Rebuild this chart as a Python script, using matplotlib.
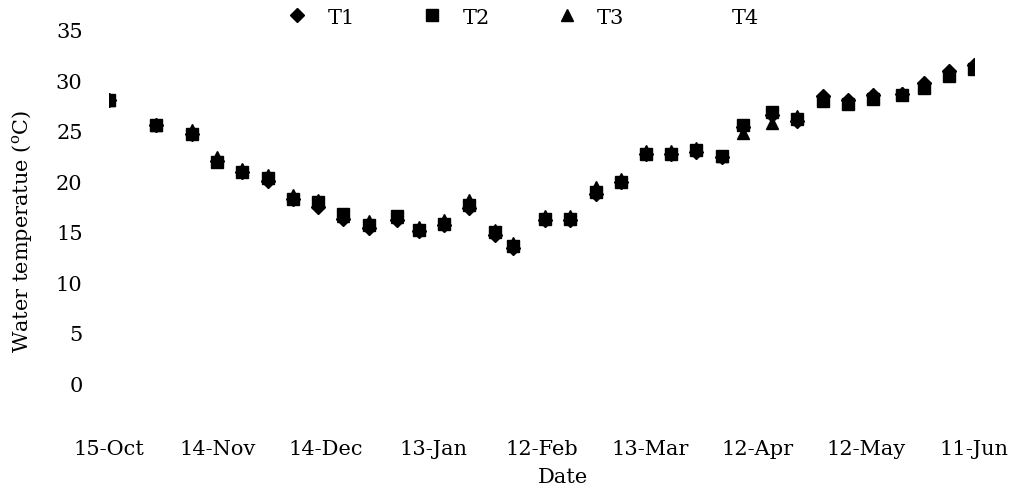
import datetime as dt
import numpy as np
import matplotlib
matplotlib.use("Agg")
import matplotlib.pyplot as plt
import matplotlib.dates as mdates

dates = ["2015-10-15", "2015-10-28", "2015-11-07", "2015-11-14", "2015-11-21", "2015-11-28",
         "2015-12-05", "2015-12-12", "2015-12-19", "2015-12-26", "2016-01-03", "2016-01-09",
         "2016-01-16", "2016-01-23", "2016-01-30", "2016-02-04", "2016-02-13", "2016-02-20",
         "2016-02-27", "2016-03-05", "2016-03-12", "2016-03-19", "2016-03-26", "2016-04-02",
         "2016-04-08", "2016-04-16", "2016-04-23", "2016-04-30", "2016-05-07", "2016-05-14",
         "2016-05-22", "2016-05-28", "2016-06-04", "2016-06-11"]

t1 = [28.1, 25.6, 24.7, 22.0, 20.9, 20.0, 18.3, 17.5, 16.3, 15.4, 16.2, 15.1,
      15.7, 17.4, 14.7, 13.4, 16.2, 16.2, 18.7, 19.9, 22.7, 22.7, 22.9, 22.4,
      25.4, 26.6, 26.0, 28.5, 28.1, 28.6, 28.7, 29.7, 30.9, 31.5]
t2 = [28.1, 25.6, 24.7, 21.9, 20.9, 20.3, 18.3, 18.0, 16.8, 15.7, 16.6, 15.2,
      15.8, 17.7, 15.0, 13.6, 16.3, 16.3, 18.9, 19.9, 22.7, 22.7, 23.1, 22.5,
      25.6, 26.9, 26.2, 28.0, 27.7, 28.2, 28.6, 29.3, 30.4, 31.1]
t3 = [28.1, 25.6, 25.1, 22.4, 21.2, 20.6, 18.6, 18.2, 16.6, 16.1, 16.5, 15.5,
      16.2, 18.2, 15.2, 13.9, 16.6, 16.6, 19.4, 20.2, 23.0, 23.0, 23.3, 22.5,
      24.8, 25.8, 26.5, 28.2, 27.9, 28.4, 28.8, 29.5, 30.6, 31.3]
t4 = [np.nan] * len(dates)  # T4 has no visible markers in the reference

tick_dates = ["2015-10-15", "2015-11-14", "2015-12-14", "2016-01-13", "2016-02-12",
              "2016-03-13", "2016-04-12", "2016-05-12", "2016-06-11"]
y_ticks = [0, 5, 10, 15, 20, 25, 30, 35]

plt.rcParams["font.family"] = "DejaVu Serif"
plt.rcParams["mathtext.fontset"] = "dejavuserif"
FS = 15

x = [dt.datetime.strptime(d, "%Y-%m-%d") for d in dates]
xt = [dt.datetime.strptime(d, "%Y-%m-%d") for d in tick_dates]

W, H = 1016, 489
fig = plt.figure(figsize=(W / 100, H / 100), dpi=100)
left, right, top, bottom = 109, 974, 31, 434.6
ax = fig.add_axes([left / W, 1 - bottom / H, (right - left) / W, (bottom - top) / H])

ax.plot(x, t1, linestyle="none", marker="D", markersize=7.6, color="black", label="T1")
ax.plot(x, t2, linestyle="none", marker="s", markersize=9.2, color="black", label="T2")
ax.plot(x, t3, linestyle="none", marker="^", markersize=9.2, color="black", label="T3")
ax.plot(x, t4, linestyle="none", marker="none", color="black", label="T4")

ax.set_xlim(xt[0], xt[-1])
ax.set_ylim(-5, 35)
ax.set_xticks(xt)
ax.xaxis.set_major_formatter(mdates.DateFormatter("%d-%b"))
ax.set_yticks(y_ticks)
ax.set_yticklabels([str(v) for v in y_ticks])
ax.tick_params(axis="both", length=0, labelsize=FS)
ax.tick_params(axis="y", pad=19)
ax.tick_params(axis="x", pad=4)
for s in ax.spines.values():
    s.set_visible(False)

fig.text(563 / W, 1 - 478 / H, "Date", fontsize=FS, ha="center", va="center")
fig.text(22 / W, 1 - 232 / H, r"Water temperatue ($^{\rm o}$C)", fontsize=FS,
         rotation=90, ha="center", va="center")

fig.legend(loc="center left", bbox_to_anchor=(287 / W, 1 - 18 / H), ncol=4,
           frameon=False, fontsize=FS, handlelength=1.0, handletextpad=0.95,
           columnspacing=3.2, borderpad=0, borderaxespad=0, numpoints=1)

fig.savefig("out.png", dpi=100)
